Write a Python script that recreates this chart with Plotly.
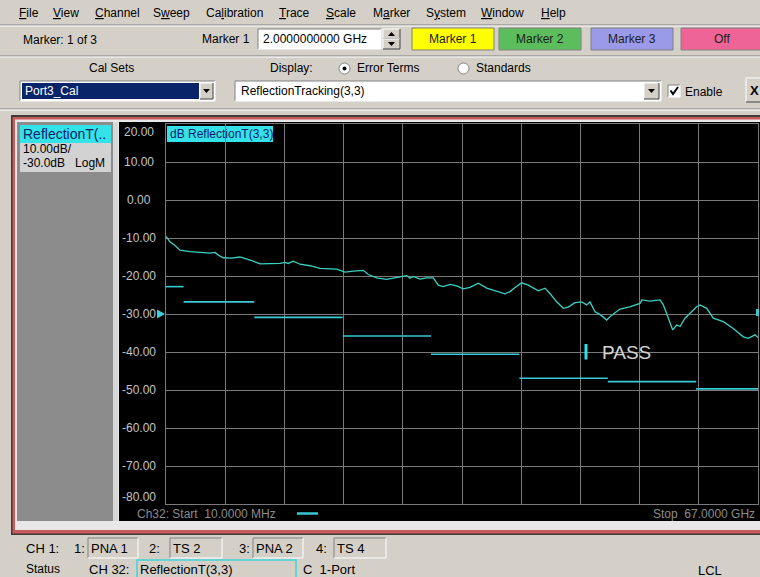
import plotly.graph_objects as go

W, H = 760, 577
FONT = "Liberation Sans, Arial, sans-serif"

# ---------------- data ----------------
trace_freq_ghz = [0.01, 0.09, 0.46, 1.03, 1.59, 2.73, 3.86, 4.99, 5.55, 5.93, 6.49, 7.44, 8.38, 9.14,
                  9.89, 10.65, 11.78, 12.91, 13.48, 13.85, 14.41, 15.17, 16.30, 17.44, 19.33, 20.27,
                  21.20, 22.34, 22.90, 23.85, 24.98, 26.12, 27.25, 27.62, 28.00, 28.75, 29.51, 30.26,
                  30.82, 31.39, 32.15, 32.91, 33.65, 34.41, 35.35, 36.30, 37.43, 38.37, 38.94, 39.50,
                  40.26, 41.01, 42.14, 42.90, 43.46, 44.22, 44.97, 45.53, 46.29, 47.05, 47.62, 47.99,
                  48.56, 49.12, 49.88, 50.45, 51.38, 52.50, 53.65, 53.84, 54.78, 55.91, 56.29, 56.85,
                  57.35, 57.80, 58.18, 58.74, 59.50, 60.06, 60.44, 61.20, 61.94, 63.08, 64.20, 65.34,
                  65.90, 66.66, 67.00]
trace_db = [-9.6, -9.9, -11.0, -12.0, -13.2, -13.6, -13.8, -14.0, -13.8, -14.5, -15.2, -15.3, -15.0, -15.5,
            -16.1, -16.8, -16.8, -16.7, -16.4, -16.7, -16.1, -16.9, -17.3, -18.0, -18.2, -19.0,
            -18.7, -18.5, -19.6, -20.5, -20.9, -20.3, -19.9, -20.6, -20.1, -20.8, -20.5, -20.5,
            -22.4, -22.8, -22.2, -22.6, -23.4, -23.0, -21.9, -23.2, -24.1, -24.7, -24.1, -23.0,
            -21.8, -22.4, -23.9, -23.2, -24.6, -26.8, -28.5, -28.2, -27.0, -26.8, -27.6, -26.8,
            -29.4, -30.1, -31.6, -30.3, -28.7, -28.1, -27.2, -26.3, -26.6, -26.3, -27.6, -31.1,
            -34.2, -32.9, -33.3, -31.1, -29.4, -28.1, -27.6, -28.5, -31.1, -32.0, -33.8, -36.0,
            -36.4, -35.5, -36.2]

limit_start_ghz = [0.01, 2, 10, 20, 30, 40, 50, 60]
limit_stop_ghz = [2, 10, 20, 30, 40, 50, 60, 67]
limit_db = [-22.8, -26.8, -30.9, -35.8, -40.6, -46.9, -47.8, -49.7]

y_tick_values = [20, 10, 0, -10, -20, -30, -40, -50, -60, -70, -80]
y_tick_labels = ["20.00", "10.00", "0.00", "-10.00", "-20.00", "-30.00", "-40.00",
                 "-50.00", "-60.00", "-70.00", "-80.00"]
x_start_ghz, x_stop_ghz = 0.01, 67.0
y_min_db, y_max_db = -80, 20
ref_level_db = -30

menu_items = ["<u>F</u>ile", "<u>V</u>iew", "<u>C</u>hannel", "S<u>w</u>eep", "Ca<u>l</u>ibration",
              "<u>T</u>race", "<u>S</u>cale", "M<u>a</u>rker", "S<u>y</u>stem", "<u>W</u>indow", "<u>H</u>elp"]
menu_x = [18, 52, 94, 152, 205, 278, 325, 372, 425, 480, 540]

marker_buttons = ["Marker 1", "Marker 2", "Marker 3", "Off"]
marker_button_x = [(412, 494), (499, 581), (591, 673), (681, 762)]
marker_button_colors = ["#ffff00", "#5cbd5c", "#9a9ae8", "#ee6496"]

# ---------------- helpers ----------------
shapes, annotations = [], []


def X(px):
    return px / W


def Y(py):
    return 1 - py / H


def rect(x0, y0, x1, y1, fill, line=None, lw=0, layer="below"):
    shapes.append(dict(type="rect", xref="paper", yref="paper", x0=X(x0), x1=X(x1),
                       y0=Y(y1), y1=Y(y0), fillcolor=fill,
                       line=dict(width=lw, color=line or fill), layer=layer))


def hline(x0, x1, y, color, lw=1, layer="below"):
    shapes.append(dict(type="line", xref="paper", yref="paper", x0=X(x0), x1=X(x1),
                       y0=Y(y), y1=Y(y), line=dict(width=lw, color=color), layer=layer))


def vline(x, y0, y1, color, lw=1, layer="below"):
    shapes.append(dict(type="line", xref="paper", yref="paper", x0=X(x), x1=X(x),
                       y0=Y(y0), y1=Y(y1), line=dict(width=lw, color=color), layer=layer))


def path(pts, fill=None, color="black", lw=0, layer="above"):
    d = "M " + " L ".join(f"{X(a):.5f},{Y(b):.5f}" for a, b in pts)
    if fill:
        d += " Z"
    shapes.append(dict(type="path", xref="paper", yref="paper", path=d,
                       fillcolor=fill or "rgba(0,0,0,0)", line=dict(width=lw, color=color), layer=layer))


def text(px, py, s, size=12, color="#000000", anchor="left"):
    annotations.append(dict(xref="paper", yref="paper", x=X(px), y=Y(py), text=s, showarrow=False,
                            xanchor=anchor, yanchor="middle", borderpad=0,
                            font=dict(family=FONT, size=size, color=color)))


def sunken(x0, y0, x1, y1, fill="#ffffff"):
    rect(x0, y0, x1, y1, fill)
    hline(x0, x1, y0, "#808080")
    vline(x0, y0, y1, "#808080")
    hline(x0, x1, y1, "#ffffff")
    vline(x1, y0, y1, "#ffffff")


def raised(x0, y0, x1, y1, fill="#d4d0c8"):
    rect(x0, y0, x1, y1, fill)
    hline(x0, x1, y0, "#ffffff")
    vline(x0, y0, y1, "#ffffff")
    hline(x0, x1, y1, "#404040")
    vline(x1, y0, y1, "#404040")


# ---------------- top toolbar ----------------
for s, x in zip(menu_items, menu_x):
    text(x, 13, s, 12)
hline(0, 760, 25, "#808080")
hline(0, 760, 26, "#ffffff")

text(22, 40, "Marker: 1 of 3", 12)
text(201, 39, "Marker 1", 12)
sunken(258, 29, 381, 49)
text(262, 39, "2.0000000000 GHz", 12)
raised(383, 29, 400, 39)
raised(383, 39, 400, 49)
path([(388, 36), (395, 36), (391.5, 32)], fill="#000000")
path([(388, 42), (395, 42), (391.5, 46)], fill="#000000")
for label, (bx0, bx1), col in zip(marker_buttons, marker_button_x, marker_button_colors):
    rect(bx0, 28, bx1, 50, col, line="#808080", lw=1)
    text((bx0 + bx1) / 2, 39, label, 12, "#202020", "center")
hline(0, 760, 56, "#808080")
hline(0, 760, 57, "#ffffff")

text(112, 68, "Cal Sets", 12, anchor="center")
text(269, 68, "Display:", 12)
shapes.append(dict(type="circle", xref="paper", yref="paper", x0=X(339), x1=X(350), y0=Y(74), y1=Y(63),
                   fillcolor="#ffffff", line=dict(width=1, color="#808080"), layer="above"))
shapes.append(dict(type="circle", xref="paper", yref="paper", x0=X(342.5), x1=X(346.5), y0=Y(70.5), y1=Y(66.5),
                   fillcolor="#000000", line=dict(width=0), layer="above"))
text(356, 68, "Error Terms", 12)
shapes.append(dict(type="circle", xref="paper", yref="paper", x0=X(458), x1=X(469), y0=Y(74), y1=Y(63),
                   fillcolor="#ffffff", line=dict(width=1, color="#808080"), layer="above"))
text(475, 68, "Standards", 12)

sunken(20, 81, 215, 101)
rect(22, 83, 199, 99, "#0a246a")
text(24, 91, "Port3_Cal", 12, "#ffffff")
raised(200, 83, 213, 99)
path([(203, 89), (210, 89), (206.5, 93)], fill="#000000")
sunken(235, 81, 661, 101)
text(240, 91, "ReflectionTracking(3,3)", 12)
raised(644, 83, 659, 99)
path([(648, 89), (655, 89), (651.5, 93)], fill="#000000")
sunken(668, 85, 680, 97)
path([(670.5, 90.5), (673, 94), (678, 87)], color="#000000", lw=2)
text(684, 92, "Enable", 12)
raised(746, 78, 764, 102)
text(749, 90, "<b>X</b>", 13)
hline(0, 760, 109, "#808080")
hline(0, 760, 110, "#ffffff")

# ---------------- window frame ----------------
rect(11, 115, 762, 535, "#3c3c3c")
rect(12.5, 117, 762, 533.5, "#c85a5a")
rect(15, 119.5, 762, 530, "#e8e8e8")
rect(17, 122, 113, 521, "#8c8c8c")
rect(113, 122, 118, 521, "#d8d8d8")
rect(119, 122, 762, 521, "#000000")

# left panel label
rect(20, 125, 111, 143, "#33e3e8")
text(22, 134, "ReflectionT(..", 14, "#10206a")
rect(20, 143, 111, 172, "#d2d2d2")
text(22, 149, "10.00dB/", 12)
text(22, 163, "-30.0dB   LogM", 12)

# trace title
rect(167, 126, 273, 142, "#33e3e8")
text(169, 134, "dB ReflectionT(3,3)", 12, "#10206a")

# bottom strip texts
text(136, 514, "Ch32: Start  10.0000 MHz", 12, "#8c8c8c")
hline(297, 318, 513.5, "#36c8d4", lw=2.5, layer="above")
text(756, 514, "Stop  67.0000 GHz", 12, "#8c8c8c", "right")

# y tick labels
n = len(y_tick_values)
for i, (v, lab) in enumerate(zip(y_tick_values, y_tick_labels)):
    shift = -8 if i == 0 else (7 if i == n - 1 else 0)
    annotations.append(dict(xref="paper", yref="y", x=X(139), y=v, yshift=shift, text=lab,
                            showarrow=False, xanchor="center", yanchor="middle",
                            font=dict(family=FONT, size=12, color="#c4c4c4")))

# reference level arrow at -30 dB
shapes.append(dict(type="path", xref="paper", yref="y",
                   path=f"M {X(157)},{ref_level_db + 1.2} L {X(165)},{ref_level_db} L {X(157)},{ref_level_db - 1.2} Z",
                   fillcolor="#36d0e0", line=dict(width=0), layer="above"))
rect(756, 309, 759, 316, "#36c8d4", layer="above")

# PASS indicator
rect(584.5, 344, 587.5, 359.5, "#2ee0e8", layer="above")
text(601, 352, "PASS", 19, "#d4d4d4")

# ---------------- status bar ----------------
text(25, 548, "CH 1:", 13)
for lab, lx, (bx0, bx1), name in zip(["1:", "2:", "3:", "4:"], [73, 148, 238, 315],
                                     [(88, 138), (170, 222), (253, 303), (334, 386)],
                                     ["PNA 1", "TS 2", "PNA 2", "TS 4"]):
    text(lx, 548, lab, 13)
    rect(bx0, 538, bx1, 558, "#d4d0c8")
    hline(bx0, bx1, 538, "#808080")
    vline(bx0, 538, 558, "#808080")
    hline(bx0, bx1, 558, "#ffffff")
    vline(bx1, 538, 558, "#ffffff")
    text(bx0 + 2, 548, name, 13)
text(25, 569, "Status", 12)
text(88, 569, "CH 32:", 13)
rect(137, 560, 296, 578, "#d4d0c8", line="#40d4d8", lw=1.5)
text(139, 569, "ReflectionT(3,3)", 13)
text(302, 569, "C  1-Port", 13)
text(697, 570, "LCL", 13)

# ---------------- figure ----------------
fig = go.Figure()

lx, ly = [], []
for a, b, v in zip(limit_start_ghz, limit_stop_ghz, limit_db):
    lx += [a, b, None]
    ly += [v, v, None]
fig.add_trace(go.Scatter(x=lx, y=ly, mode="lines", line=dict(color="#38cbd8", width=1.6),
                         hoverinfo="skip", showlegend=False))
fig.add_trace(go.Scatter(x=trace_freq_ghz, y=trace_db, mode="lines",
                         line=dict(color="#3cd0c4", width=1.3), showlegend=False))

axis_common = dict(showgrid=True, gridcolor="#7a7a7a", gridwidth=1, showticklabels=False, ticks="",
                   zeroline=False, showline=True, mirror=True, linecolor="#7a7a7a", linewidth=1,
                   fixedrange=True)
fig.update_layout(
    width=W, height=H, margin=dict(l=0, r=0, t=0, b=0),
    paper_bgcolor="#d4d0c8", plot_bgcolor="#000000",
    xaxis=dict(domain=[X(166), X(758)], range=[x_start_ghz, x_stop_ghz], tick0=x_start_ghz,
               dtick=(x_stop_ghz - x_start_ghz) / 10, **axis_common),
    yaxis=dict(domain=[Y(504), Y(124)], range=[y_min_db, y_max_db], dtick=10, **axis_common),
    shapes=shapes, annotations=annotations, showlegend=False,
    font=dict(family=FONT),
)
fig.write_html("out.html", config={"displayModeBar": False},
               post_script="document.body.style.margin='0';document.body.style.overflow='hidden';")
